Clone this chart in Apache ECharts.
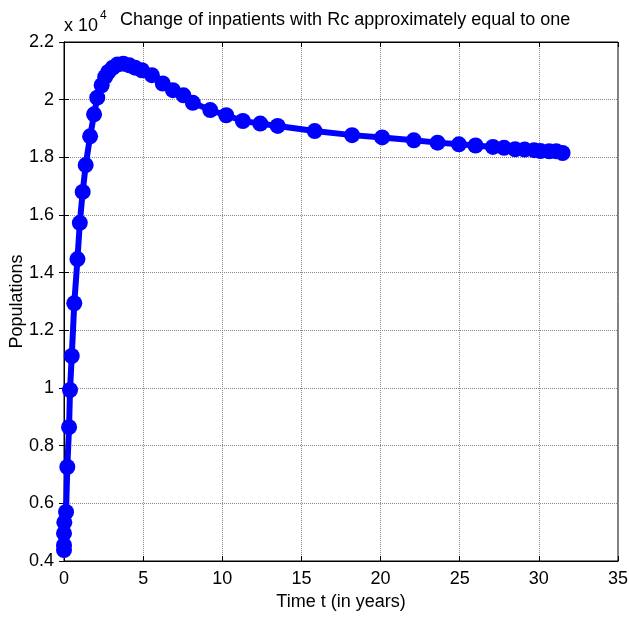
<!DOCTYPE html>
<html>
<head>
<meta charset="utf-8">
<script src="https://cdn.jsdelivr.net/npm/echarts@6/dist/echarts.min.js"></script>
<style>html,body{margin:0;padding:0;background:#fff;}#c{width:629px;height:618px;}</style>
</head>
<body>
<div id="c"></div>
<script>
var titleText = "Change of inpatients with Rc approximately equal to one";
var xName = "Time t (in years)";
var yName = "Populations";
var timeYears = [0, 0, 0, 0.02, 0.13, 0.21, 0.32, 0.38, 0.49, 0.65, 0.85, 1.0, 1.18, 1.37, 1.65, 1.9, 2.1, 2.38, 2.6, 2.8, 3.08, 3.38, 3.75, 4.13, 4.49, 4.92, 5.55, 6.24, 6.88, 7.55, 8.14, 9.24, 10.25, 11.3, 12.4, 13.5, 15.84, 18.2, 20.1, 22.1, 23.6, 24.95, 26.0, 27.1, 27.8, 28.5, 29.1, 29.7, 30.1, 30.65, 31.1, 31.5];
var inpatients = [4380, 4550, 4960, 5340, 5700, 7260, 8640, 9930, 11110, 12940, 14470, 15730, 16800, 17730, 18730, 19490, 20070, 20500, 20790, 20960, 21110, 21220, 21250, 21190, 21110, 21020, 20850, 20560, 20330, 20150, 19890, 19640, 19460, 19260, 19170, 19090, 18910, 18770, 18690, 18590, 18510, 18450, 18410, 18360, 18330, 18280, 18270, 18250, 18220, 18210, 18210, 18150];
var xTicks = [0, 35, 5];
var yTicks = [4000, 22000, 2000];

var chart = echarts.init(document.getElementById('c'));
var pts = timeYears.map(function(t, i){ return [t, inpatients[i]]; });
var fontFam = "'Liberation Sans', Arial, sans-serif";
var gridLine = {show: true, lineStyle: {color: '#8a8a8a', type: [1, 1], width: 1}};
chart.setOption({
  animation: false,
  backgroundColor: '#fff',
  grid: {left: 64, right: 11, top: 42, bottom: 57, show: true, borderColor: '#000', borderWidth: 1,
         containLabel: false, outerBoundsMode: 'none'},
  xAxis: [{
    type: 'value', min: xTicks[0], max: xTicks[1], interval: xTicks[2],
    name: xName, nameLocation: 'middle', nameGap: 32, nameMoveOverlap: false,
    nameTextStyle: {fontFamily: fontFam, fontSize: 18, color: '#000'},
    axisLine: {show: true, onZero: false, lineStyle: {color: '#000'}},
    axisTick: {show: true, inside: true, length: 5, lineStyle: {color: '#000'}},
    axisLabel: {fontFamily: fontFam, fontSize: 18, color: '#000', margin: 9},
    splitLine: gridLine
  }, {
    type: 'value', position: 'top', min: xTicks[0], max: xTicks[1], interval: xTicks[2],
    axisLine: {show: true, lineStyle: {color: '#000'}},
    axisTick: {show: true, inside: true, length: 5, lineStyle: {color: '#000'}},
    axisLabel: {show: false}, splitLine: {show: false}
  }],
  yAxis: [{
    type: 'value', min: yTicks[0], max: yTicks[1], interval: yTicks[2],
    name: yName, nameLocation: 'middle', nameGap: 38, nameRotate: 90, nameMoveOverlap: false,
    nameTextStyle: {fontFamily: fontFam, fontSize: 18, color: '#000'},
    axisLine: {show: true, onZero: false, lineStyle: {color: '#000'}},
    axisTick: {show: true, inside: true, length: 5, lineStyle: {color: '#000'}},
    axisLabel: {fontFamily: fontFam, fontSize: 18, color: '#000', margin: 10,
      formatter: function(v){ return String(+(v / 10000).toFixed(1)); }},
    splitLine: gridLine
  }, {
    type: 'value', position: 'right', min: yTicks[0], max: yTicks[1], interval: yTicks[2],
    axisLine: {show: true, lineStyle: {color: '#000'}},
    axisTick: {show: true, inside: true, length: 5, lineStyle: {color: '#000'}},
    axisLabel: {show: false}, splitLine: {show: false}
  }],
  graphic: [{
    type: 'text', left: 64, top: 17,
    style: {text: 'x 10', fontFamily: fontFam, fontSize: 18, fill: '#000'}
  }, {
    type: 'text', left: 100, top: 10,
    style: {text: '4', fontFamily: fontFam, fontSize: 12, fill: '#000'}
  }, {
    type: 'text', left: 120, top: 11,
    style: {text: titleText, fontFamily: fontFam, fontSize: 18, fill: '#000'}
  }],
  series: [{
    type: 'line', data: pts, xAxisIndex: 0, yAxisIndex: 0,
    symbol: 'circle', symbolSize: 16,
    lineStyle: {color: '#0000ff', width: 6},
    itemStyle: {color: '#0000ff'},
    clip: false
  }]
});
</script>
</body>
</html>
